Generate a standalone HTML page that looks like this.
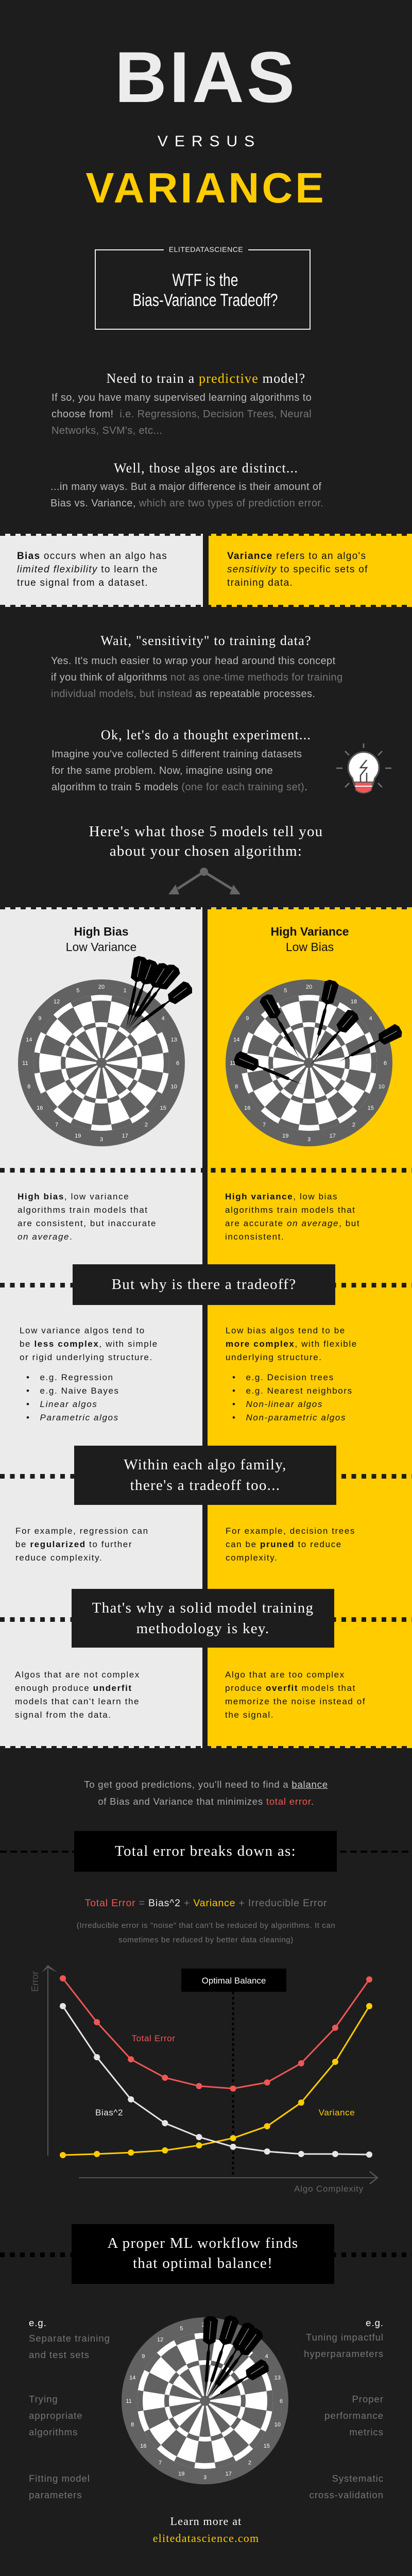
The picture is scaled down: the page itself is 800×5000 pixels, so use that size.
<!DOCTYPE html>
<html><head><meta charset="utf-8">
<style>
*{margin:0;padding:0;box-sizing:border-box}
body{width:800px;height:5000px;background:#1d1d1d;position:relative;overflow:hidden;font-family:"Liberation Sans",sans-serif}
.a{position:absolute}
.c{position:absolute;left:0;width:800px;text-align:center;white-space:nowrap}
.sf{font-family:"Liberation Serif",serif;color:#fff;letter-spacing:1.2px}
.bd{font-size:20px;line-height:32px;color:#bbb;letter-spacing:.4px;white-space:nowrap}
.g{color:#777}
.pt{font-size:19px;line-height:26px;color:#111;letter-spacing:1.3px;white-space:nowrap}
.pt2{font-size:17px;line-height:26px;color:#111;letter-spacing:1.6px;white-space:nowrap}
.dots{position:absolute;left:0;width:800px;height:9px;background:repeating-linear-gradient(90deg,#1d1d1d 0 9px,transparent 9px 19.5px)}
.dash{position:absolute;left:0;width:800px;height:4px;background:repeating-linear-gradient(90deg,#000 0 13px,transparent 13px 20px)}
.box{position:absolute;background:#1d1d1d;color:#fff;text-align:center;font-family:"Liberation Serif",serif;font-size:29px;letter-spacing:1.3px;white-space:nowrap}
.notch{position:absolute;height:4px;background:repeating-linear-gradient(90deg,#1d1d1d 0 10px,transparent 10px 20px)}
ul{list-style:none}
</style></head>
<body>

<div class="c" style="top:80px;font-size:140px;line-height:140px;font-weight:bold;color:#ececec;letter-spacing:5px">BIAS</div>
<div class="c" style="top:260px;font-size:30px;line-height:30px;color:#fff;letter-spacing:13px;padding-left:13px">VERSUS</div>
<div class="c" style="top:323px;font-size:83px;line-height:83px;font-weight:bold;color:#ffcc00;letter-spacing:5px">VARIANCE</div>

<div class="a" style="left:184px;top:484px;width:419px;height:156px;border:2px solid #eee"></div>
<div class="c" style="top:476px"><span style="background:#1d1d1d;color:#eee;font-size:14px;padding:0 10px;line-height:16px;letter-spacing:.5px">ELITEDATASCIENCE</span></div>
<div class="c" style="top:525px;font-size:34px;line-height:39px;color:#fff;transform:scaleX(.78);transform-origin:393px 0">WTF is the<br>Bias-Variance Tradeoff?</div>

<div class="c sf" style="top:719px;font-size:26px;line-height:32px">Need to train a <span style="color:#ffcc00">predictive</span> model?</div>
<div class="a bd" style="left:100px;top:756px">If so, you have many supervised learning algorithms to<br>choose from!&nbsp; <span class="g">i.e. Regressions, Decision Trees, Neural<br>Networks, SVM's, etc...</span></div>

<div class="c sf" style="top:893px;font-size:26px;line-height:32px">Well, those algos are distinct...</div>
<div class="a bd" style="left:98px;top:929px">...in many ways. But a major difference is their amount of<br>Bias vs. Variance, <span class="g">which are two types of prediction error.</span></div>

<div class="a" style="left:0;top:1036px;width:394px;height:142px;background:#ebebeb"></div>
<div class="a" style="left:405px;top:1036px;width:395px;height:142px;background:#ffcc00"></div>
<div class="notch" style="left:0;width:800px;top:1036px"></div>
<div class="notch" style="left:0;width:800px;top:1174px"></div>
<div class="a pt" style="left:33px;top:1067px"><b>Bias</b> occurs when an algo has<br><i>limited flexibility</i> to learn the<br>true signal from a dataset.</div>
<div class="a pt" style="left:441px;top:1067px"><b>Variance</b> refers to an algo's<br><i>sensitivity</i> to specific sets of<br>training data.</div>

<div class="c sf" style="top:1228px;font-size:26px;line-height:32px">Wait, "sensitivity" to training data?</div>
<div class="a bd" style="left:99px;top:1267px">Yes. It's much easier to wrap your head around this concept<br>if you think of algorithms <span class="g">not as one-time methods for training<br>individual models, but instead</span> as repeatable processes.</div>

<div class="c sf" style="top:1411px;font-size:26px;line-height:32px">Ok, let's do a thought experiment...</div>
<div class="a bd" style="left:100px;top:1448px">Imagine you've collected 5 different training datasets<br>for the same problem. Now, imagine using one<br>algorithm to train 5 models <span class="g">(one for each training set)</span>.</div>

<svg class="a" style="left:650px;top:1440px" width="120" height="110" viewBox="650 1440 120 110">
<g stroke="#777" stroke-width="2.5">
<line x1="706" y1="1443" x2="706" y2="1452"/><line x1="670" y1="1458" x2="678" y2="1466"/><line x1="742" y1="1458" x2="734" y2="1466"/>
<line x1="653" y1="1491" x2="665" y2="1491"/><line x1="748" y1="1491" x2="760" y2="1491"/>
<line x1="670" y1="1528" x2="678" y2="1520"/><line x1="742" y1="1528" x2="734" y2="1520"/></g>
<path d="M684 1510 A30 30 0 1 1 728 1510 L724 1524 L688 1524 Z" fill="#fff" stroke="#555" stroke-width="3"/>
<path d="M688 1518 L724 1518 L721 1534 Q706 1545 691 1534 Z" fill="#f05656" stroke="#555" stroke-width="2"/>
<line x1="689" y1="1526" x2="723" y2="1526" stroke="#fff" stroke-width="2"/>
<path d="M712 1475 L700 1490 L712 1490 L700 1505 L700 1518 M712 1500 L712 1518" fill="none" stroke="#444" stroke-width="2.5"/>
</svg>

<div class="c sf" style="top:1595px;font-size:29px;line-height:38px">Here's what those 5 models tell you<br>about your chosen algorithm:</div>
<svg class="a" style="left:320px;top:1680px" width="160" height="70" viewBox="320 1680 160 70">
<g stroke="#666" stroke-width="5"><line x1="396" y1="1692" x2="345" y2="1725"/><line x1="396" y1="1692" x2="450" y2="1725"/></g>
<circle cx="396" cy="1692" r="8" fill="#666"/>
<polygon points="327,1736 348,1736 341,1717" fill="#666"/><polygon points="467,1736 446,1736 453,1717" fill="#666"/>
</svg>

<!-- Panels -->
<div class="a" style="left:0;top:1761px;width:393px;height:1632px;background:#ebebeb"></div>
<div class="a" style="left:403px;top:1761px;width:397px;height:1632px;background:#ffcc00"></div>
<div class="a" style="left:393px;top:1761px;width:10px;height:1632px;background:#1d1d1d"></div>
<div class="notch" style="width:800px;left:0;top:1761px"></div>
<div class="notch" style="width:800px;left:0;top:3389px"></div>

<div class="a" style="left:0;width:393px;text-align:center;top:1793px;font-size:23px;line-height:30px;color:#111"><b>High Bias</b><br>Low Variance</div>
<div class="a" style="left:403px;width:397px;text-align:center;top:1793px;font-size:23px;line-height:30px;color:#111"><b>High Variance</b><br>Low Bias</div>

<svg class="a" id="boards" style="left:0;top:0" width="800" height="5000"></svg>

<div class="dots" style="top:2267px"></div>
<div class="a pt2" style="left:34px;top:2310px"><b>High bias</b>, low variance<br>algorithms train models that<br>are consistent, but inaccurate<br><i>on average</i>.</div>
<div class="a pt2" style="left:437px;top:2310px"><b>High variance</b>, low bias<br>algorithms train models that<br>are accurate <i>on average</i>, but<br>inconsistent.</div>

<div class="dots" style="top:2490px"></div>
<div class="box" style="left:141px;top:2454px;width:510px;height:79px;line-height:79px">But why is there a tradeoff?</div>

<div class="a pt2" style="left:38px;top:2570px"><span>Low variance algos tend to<br>be <b>less complex</b>, with simple<br>or rigid underlying structure.</span>
<ul style="margin-top:13px;margin-left:13px"><li>•&nbsp;&nbsp; e.g. Regression</li><li>•&nbsp;&nbsp; e.g. Naive Bayes</li><li>•&nbsp;&nbsp; <i>Linear algos</i></li><li>•&nbsp;&nbsp; <i>Parametric algos</i></li></ul></div>
<div class="a pt2" style="left:438px;top:2570px"><span>Low bias algos tend to be<br><b>more complex</b>, with flexible<br>underlying structure.</span>
<ul style="margin-top:13px;margin-left:13px"><li>•&nbsp;&nbsp; e.g. Decision trees</li><li>•&nbsp;&nbsp; e.g. Nearest neighbors</li><li>•&nbsp;&nbsp; <i>Non-linear algos</i></li><li>•&nbsp;&nbsp; <i>Non-parametric algos</i></li></ul></div>

<div class="dots" style="top:2861px"></div>
<div class="box" style="left:144px;top:2806px;width:509px;height:115px;padding-top:17px;line-height:40px">Within each algo family,<br>there's a tradeoff too...</div>
<div class="a pt2" style="left:30px;top:2959px;line-height:26px">For example, regression can<br>be <b>regularized</b> to further<br>reduce complexity.</div>
<div class="a pt2" style="left:438px;top:2959px;line-height:26px">For example, decision trees<br>can be <b>pruned</b> to reduce<br>complexity.</div>

<div class="dots" style="top:3139px"></div>
<div class="box" style="left:139px;top:3084px;width:510px;height:114px;padding-top:17px;line-height:40px">That's why a solid model training<br>methodology is key.</div>
<div class="a pt2" style="left:29px;top:3238px">Algos that are not complex<br>enough produce <b>underfit</b><br>models that can't learn the<br>signal from the data.</div>
<div class="a pt2" style="left:437px;top:3238px">Algo that are too complex<br>produce <b>overfit</b> models that<br>memorize the noise instead of<br>the signal.</div>

<div class="c" style="top:3447px;font-size:18.5px;line-height:33px;color:#aaa;letter-spacing:.8px">To get good predictions, you'll need to find a <u style="color:#ccc">balance</u><br>of Bias and Variance that minimizes <span style="color:#f05656">total error</span>.</div>

<div class="dash" style="top:3592px"></div>
<div class="box" style="left:144px;top:3554px;width:510px;height:79px;line-height:79px;background:#000">Total error breaks down as:</div>
<div class="c" style="top:3682px;font-size:19.5px;line-height:24px;color:#777;letter-spacing:.8px"><span style="color:#f05656">Total Error</span> = <span style="color:#eee">Bias^2</span> + <span style="color:#ffcc00">Variance</span> + Irreducible Error</div>
<div class="c" style="top:3724px;font-size:15px;line-height:28px;color:#777;letter-spacing:.6px">(Irreducible error is "noise" that can't be reduced by algorithms. It can<br>sometimes be reduced by better data cleaning)</div>

<svg class="a" id="chart" style="left:0;top:3800px" width="800" height="470"></svg>

<div class="dots" style="top:4372px;background:repeating-linear-gradient(90deg,#000 0 9px,transparent 9px 19.5px)"></div>
<div class="box" style="left:139px;top:4317px;width:510px;height:116px;padding-top:18px;line-height:39px;background:#000">A proper ML workflow finds<br>that optimal balance!</div>

<div class="a" style="left:56px;top:4497px;font-size:18.5px;line-height:23.5px;color:#777;letter-spacing:1px;white-space:nowrap">
<div style="color:#fff">e.g.</div>
<div style="margin-top:2px;line-height:32px">Separate training<br>and test sets</div>
<div style="position:absolute;top:144px;line-height:32px">Trying<br>appropriate<br>algorithms</div>
<div style="position:absolute;top:298px;line-height:32px">Fitting model<br>parameters</div>
</div>
<div class="a" style="right:55px;top:4497px;width:250px;text-align:right;font-size:18.5px;line-height:23.5px;color:#777;letter-spacing:1px;white-space:nowrap">
<div style="color:#fff">e.g.</div>
<div style="line-height:32px">Tuning impactful<br>hyperparameters</div>
<div style="position:absolute;right:0;top:144px;line-height:32px">Proper<br>performance<br>metrics</div>
<div style="position:absolute;right:0;top:298px;line-height:32px">Systematic<br>cross-validation</div>
</div>

<div class="c sf" style="top:4877px;font-size:22px;line-height:33px">Learn more at<br><span style="color:#ffcc00">elitedatascience.com</span></div>

<script>
// ---- chart data ----
const complexitySteps = [1,2,3,4,5,6,7,8,9,10];
const totalError = [100,75.7,55.1,44.9,40.3,38.9,42.3,52.9,72.6,99.4];
const biasSquared = [84.6,56.3,32.9,19.7,12,6.6,4,2.6,2.6,2.3];
const varianceVals = [2,2.6,3.4,4.6,7.4,11.4,18,31.1,53.7,84.6];
const optimalIndex = 5;

const NS='http://www.w3.org/2000/svg';
function mk(parent,tag,attrs){const e=document.createElementNS(NS,tag);for(const k in attrs)e.setAttribute(k,attrs[k]);parent.appendChild(e);return e;}

(function(){
  const svg=document.getElementById('chart');
  const x=i=>122+i*(717-122)/(complexitySteps.length-1);
  const y=v=>390-v*3.5;
  let ax=mk(svg,'line',{x1:93,y1:384,x2:93,y2:22,stroke:'#555','stroke-width':2});
  
  
  let ah=mk(svg,'polygon',{points:'81,28 93,14 111,28 93,20',fill:'#555'});
  
  
  let yt=mk(svg,'text',{x:0,y:0,transform:'translate(74,66) rotate(-90)','font-size':18,fill:'#555','font-family':'Liberation Sans'});
  yt.textContent='Error';
  
  
  let xa=mk(svg,'line',{x1:153,y1:427,x2:730,y2:427,stroke:'#555','stroke-width':2});
  
  
  let xh=mk(svg,'polyline',{points:'718,415 733,427 718,439',fill:'none',stroke:'#555','stroke-width':2.5});
  
  
  let xt=mk(svg,'text',{x:706,y:454,'text-anchor':'end','font-size':17,fill:'#666','font-family':'Liberation Sans','letter-spacing':'0.8'});
  xt.textContent='Algo Complexity';
  
  
  const ox=x(optimalIndex);
  let ol=mk(svg,'line',{x1:ox,y1:66,x2:ox,y2:425,stroke:'#000','stroke-width':4,'stroke-dasharray':'5 5'});
  
  
  let ob=mk(svg,'rect',{x:352,y:21,width:204,height:45,fill:'#000'});
  
  
  let otx=mk(svg,'text',{x:454,y:50,'text-anchor':'middle','font-size':17,fill:'#fff','font-family':'Liberation Sans'});
  otx.textContent='Optimal Balance';
  
  
  const series=[[varianceVals,'#ffcc00','variance'],[biasSquared,'#e6e6e6','bias-squared'],[totalError,'#f05656','total-error']];
  series.forEach(([vals,col,nm])=>{
    const pl=mk(svg,'polyline',{points:vals.map((v,i)=>x(i)+','+y(v)).join(' '),fill:'none',stroke:col,'stroke-width':3});
    
    
    vals.forEach((v,i)=>{
      const c=mk(svg,'circle',{cx:x(i),cy:y(v),r:6,fill:col});
      
      
    });
  });
  const labs=[['Total Error',298,162,'#f05656','total-error-label'],['Bias^2',212,306,'#eee','bias-label'],['Variance',654,306,'#ffcc00','variance-label']];
  labs.forEach(([t,lx,ly,col,nm])=>{
    const e=mk(svg,'text',{x:lx,y:ly,'text-anchor':'middle','font-size':17,fill:col,'font-family':'Liberation Sans','letter-spacing':'0.6'});
    e.textContent=t;
    
    
  });
})();

(function(){
  const svg=document.getElementById('boards');
  const nums=[20,1,18,4,13,6,10,15,2,17,3,19,7,16,8,11,14,9,12,5];
  const D='#626262',W='#fff';
  function wedge(cx,cy,r0,r1,a0,a1){
    const p=(r,a)=>[cx+r*Math.cos(a*Math.PI/180),cy+r*Math.sin(a*Math.PI/180)];
    const [x0,y0]=p(r1,a0),[x1,y1]=p(r1,a1),[x2,y2]=p(r0,a1),[x3,y3]=p(r0,a0);
    return `M${x0} ${y0} A${r1} ${r1} 0 0 1 ${x1} ${y1} L${x2} ${y2} A${r0} ${r0} 0 0 0 ${x3} ${y3}Z`;
  }
  function board(cx,cy,nm){
    const g=mk(svg,'g',{});
    
    
    mk(g,'circle',{cx,cy,r:162,fill:D});
    for(let i=0;i<20;i++){
      const a0=-99+i*18,a1=a0+18;
      const seg=i%2===0?D:W,ring=i%2===0?W:D;
      mk(g,'path',{d:wedge(cx,cy,0.1,132,a0,a1),fill:seg});
      mk(g,'path',{d:wedge(cx,cy,121,132,a0,a1),fill:ring});
      mk(g,'path',{d:wedge(cx,cy,70,79,a0,a1),fill:ring});
      const am=(a0+9)*Math.PI/180;
      const t=mk(g,'text',{x:cx+148*Math.cos(am),y:cy+148*Math.sin(am)+4,'text-anchor':'middle','font-size':11,fill:'#fff','font-family':'Liberation Sans'});
      t.textContent=nums[i];
    }
    mk(g,'circle',{cx,cy,r:10,fill:D});
  }
  function dart(tx,ty,fx,fy){
    const L=Math.hypot(fx-tx,fy-ty)*1.15, ang=Math.atan2(fy-ty,fx-tx)*180/Math.PI;
    const g=mk(svg,'g',{transform:`translate(${tx},${ty}) rotate(${ang})`});
    
    
    const s=L/100;
    mk(g,'path',{d:`M0 0 L${20*s} -1 L${22*s} -3 L${58*s} -3 L${62*s} -1.5 L${68*s} -1.5 L${72*s} -12 L${100*s} -14 L${104*s} -6 L${104*s} 6 L${100*s} 14 L${72*s} 12 L${68*s} 1.5 L${62*s} 1.5 L${58*s} 3 L${22*s} 3 L${20*s} 1 Z`,fill:'#000'});
    mk(g,'line',{x1:75*s,y1:0,x2:98*s,y2:0,stroke:'#999','stroke-width':1.2});
  }
  board(197,2063,'high-bias-dartboard');
  [[245,1998,270,1880],[247,1997,288,1886],[248,1998,311,1893],[250,1997,327,1896],[252,2000,350,1927]].forEach(d=>dart(...d));
  board(600,2063,'high-variance-dartboard');
  [[582,2055,525,1953],[612,2036,640,1925],[602,2068,675,1982],[658,2061,758,2008],[587,2105,478,2060]].forEach(d=>dart(...d));
  board(398,4660,'optimal-dartboard');
  [[398,4655,408,4522],[400,4655,444,4522],[402,4657,474,4535],[404,4658,487,4545],[406,4660,500,4600]].forEach(d=>dart(...d));
})();
</script>
</body></html>
